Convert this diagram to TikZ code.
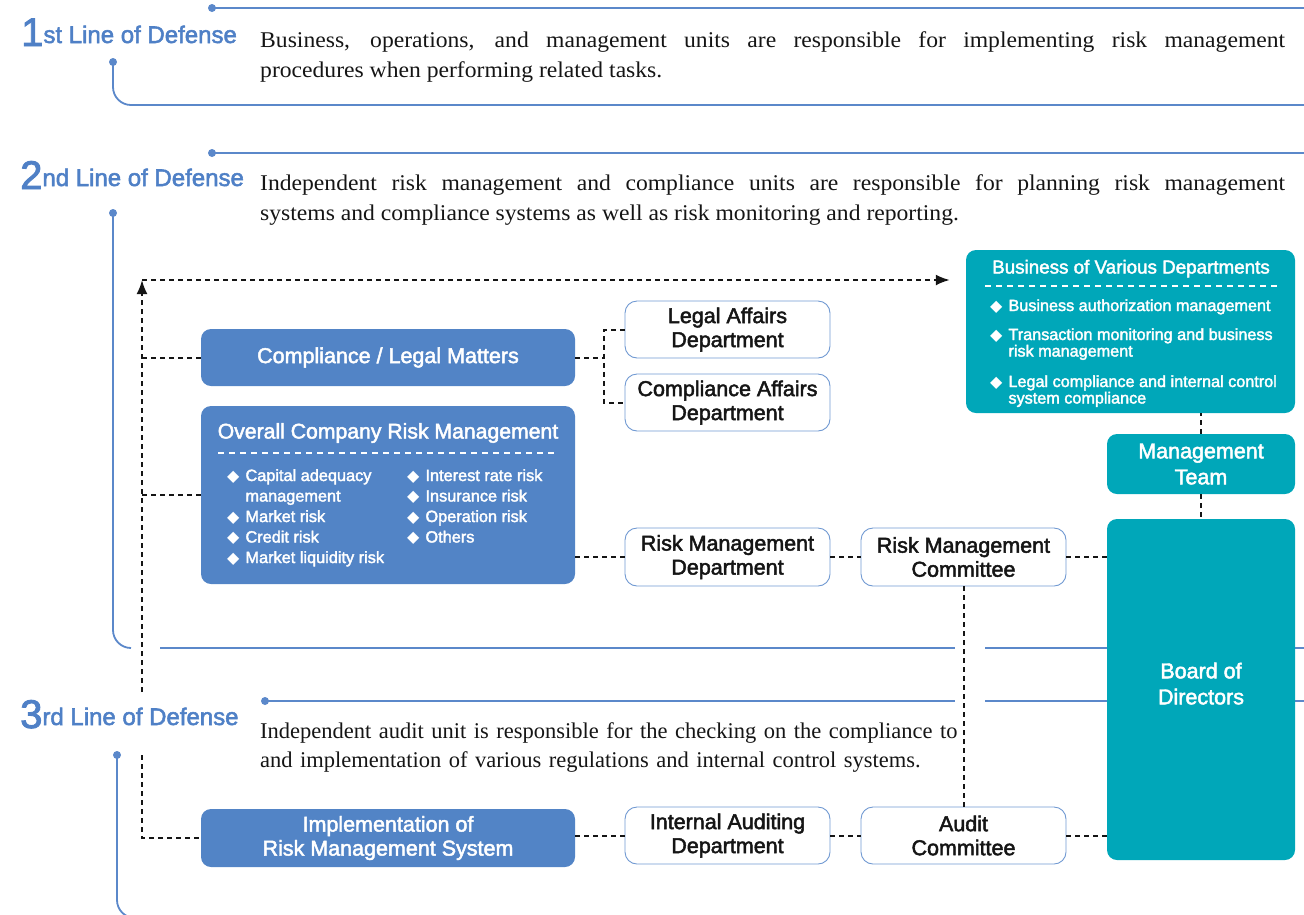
\documentclass[tikz,border=0pt]{standalone}
\usepackage{fontspec}
\setmainfont{Liberation Serif}
\setsansfont{Liberation Sans}[FakeBold=2.2]
\newfontfamily\widefont{Liberation Serif}[FakeStretch=1.05]
\newfontfamily\symfont{DejaVu Sans}
\usepackage{xcolor}
\usepackage{tikz}
\usetikzlibrary{calc,arrows.meta}
\definecolor{railc}{HTML}{5B88CA}
\definecolor{headc}{HTML}{4F80C6}
\definecolor{boxc}{HTML}{5284C6}
\definecolor{tealc}{HTML}{00A7B9}
\definecolor{edgec}{HTML}{7099D2}
\definecolor{ink}{HTML}{151515}
\newcommand{\bul}{{\symfont\fontsize{16}{16}\selectfont ◆}}
\newcommand{\bignum}[1]{{\fontsize{40}{40}\selectfont #1}}
\tikzset{
  rail/.style={draw=railc, line width=1.8pt},
  railend/.style={circle, fill=railc, inner sep=0pt, minimum size=8pt},
  dline/.style={draw=ink, line width=2pt, dash pattern=on 5pt off 4pt},
  tip/.style={-{Latex[length=14pt,width=11pt]}},
  wdash/.style={draw=white, line width=1.3pt, dash pattern=on 6pt off 5pt},
  head/.style={text=headc, font=\sffamily\fontsize{24}{24}\selectfont, anchor=base west, inner sep=0pt},
  para/.style={text=ink, font=\widefont\fontsize{22.5}{30}\selectfont, anchor=base west, inner sep=0pt, text width=1025pt, align=justify},
  bluebox/.style={fill=boxc, rounded corners=10pt, text=white, font=\sffamily\fontsize{21.5}{24}\selectfont, align=center, inner sep=0pt, minimum width=374pt},
  tealbox/.style={fill=tealc, rounded corners=10pt, text=white, font=\sffamily\fontsize{21.5}{26}\selectfont, align=center, inner sep=0pt, minimum width=188pt},
  deptbox/.style={draw=edgec, line width=0.9pt, fill=white, rounded corners=12pt, text=ink, minimum width=205pt, minimum height=57pt, font=\sffamily\fontsize{21.5}{24}\selectfont, align=center, inner sep=0pt},
  boxtitle/.style={text=white, anchor=base, inner sep=0pt},
  item/.style={text=white, font=\sffamily\fontsize{16.3}{20.5}\selectfont, anchor=base west, inner sep=0pt}
}

\begin{document}
\begin{tikzpicture}[x=1pt,y=-1pt]
  \useasboundingbox (0,0) rectangle (1304,914);

  % rails of the three lines of defense
  \node[railend] (r1a) at (212,8) {};
  \node[railend] (r1b) at (113,62) {};
  \node[railend] (r2a) at (212,153) {};
  \node[railend] (r2b) at (113,213) {};
  \node[railend] (r3a) at (265,701) {};
  \node[railend] (r3b) at (117,755) {};
  \draw[rail] (r1a.center) -- (1304,8);
  \draw[rail, rounded corners=18pt] (r1b.center) |- (1304,105);
  \draw[rail] (r2a.center) -- (1304,153);
  \draw[rail, rounded corners=18pt] (r2b.center) |- (131,648);
  \draw[rail] (160,648) -- (955,648);
  \draw[rail] (985,648) -- (1304,648);
  \draw[rail] (r3a.center) -- (955,701);
  \draw[rail] (985,701) -- (1304,701);
  \draw[rail, rounded corners=18pt] (r3b.center) |- (400,918);

  \node[head] (h1) at (21,46) {\bignum{1}\raisebox{3pt}{st Line of Defense}};
  \node[head] (h2) at (20,189) {\bignum{2}\raisebox{3pt}{nd Line of Defense}};
  \node[head] (h3) at (20,728) {\bignum{3}\raisebox{3pt}{rd Line of Defense}};

  \node[para] (t1) at (260,47) {Business, operations, and management units are responsible for implementing risk management\linebreak procedures when performing related tasks.};
  \node[para] (t2) at (260,190) {Independent risk management and compliance units are responsible for planning risk management\linebreak systems and compliance systems as well as risk monitoring and reporting.};
  \node[para, text width=720pt, align=left, font=\fontsize{22.5}{29}\selectfont] (t3) at (260,738) {Independent audit unit is responsible for the checking on the compliance to\\and implementation of various regulations and internal control systems.};

  % boxes
  \node[bluebox, minimum height=57pt] (compl) at (388,357.5) {Compliance / Legal Matters};
  \node[bluebox, minimum height=178pt] (overall) at (388,495) {};
  \node[bluebox, minimum height=58pt] (impl) at (388,838) {Implementation of\\Risk Management System};
  \node[deptbox] (legal) at (727.5,329.5) {Legal Affairs\\Department};
  \node[deptbox] (compaff) at (727.5,402.5) {Compliance Affairs\\Department};
  \node[deptbox, minimum height=58pt] (rmd) at (727.5,557) {Risk Management\\Department};
  \node[deptbox, minimum height=58pt] (rmc) at (963.5,557) {Risk Management\\Committee};
  \node[deptbox] (iad) at (727.5,835.5) {Internal Auditing\\Department};
  \node[deptbox] (audit) at (963.5,835.5) {Audit\\Committee};
  \node[tealbox, minimum width=329pt, minimum height=163pt] (biz) at (1130.5,331.5) {};
  \node[tealbox, minimum height=60pt] (mgmt) at (1201,464) {Management\\Team};
  \node[tealbox, minimum height=341pt, text depth=12pt] (board) at (1201,689.5) {Board of\\Directors};

  \node[boxtitle, font=\sffamily\fontsize{21.2}{24}\selectfont] (ovtitle) at (388,438.5) {Overall Company Risk Management};
  \draw[wdash] (218,453) -- (557,453);
  \node[item] (ovleft) at (227,481) {\begin{tabular}[t]{@{}l@{\hspace{6pt}}l@{}}
    \bul & Capital adequacy\\
         & management\\
    \bul & Market risk\\
    \bul & Credit risk\\
    \bul & Market liquidity risk
  \end{tabular}};
  \node[item] (ovright) at (407,481) {\begin{tabular}[t]{@{}l@{\hspace{6pt}}l@{}}
    \bul & Interest rate risk\\
    \bul & Insurance risk\\
    \bul & Operation risk\\
    \bul & Others
  \end{tabular}};

  \node[boxtitle, font=\sffamily\fontsize{18.8}{22}\selectfont] (biztitle) at (1131,273.5) {Business of Various Departments};
  \draw[wdash] (985,286) -- (1280,286);
  \node[item, font=\sffamily\fontsize{16.2}{16}\selectfont] (biz1) at (990,311) {\begin{tabular}[t]{@{}l@{\hspace{6pt}}l@{}}
    \bul & Business authorization management
  \end{tabular}};
  \node[item, font=\sffamily\fontsize{16.2}{16}\selectfont] (biz2) at (990,340) {\begin{tabular}[t]{@{}l@{\hspace{6pt}}l@{}}
    \bul & Transaction monitoring and business\\
         & risk management
  \end{tabular}};
  \node[item, font=\sffamily\fontsize{16.2}{16}\selectfont] (biz3) at (990,387) {\begin{tabular}[t]{@{}l@{\hspace{6pt}}l@{}}
    \bul & Legal compliance and internal control\\
         & system compliance
  \end{tabular}};

  % dashed links
  \coordinate (sptop) at (142,280);
  \coordinate (splow) at (142,692);
  \coordinate (sp3) at (142,755);
  \coordinate (fork) at (604,357.5);
  \draw[dline, tip] (splow) -- (sptop);
  \draw[dline, tip, shorten >=16pt] (sptop) -- (sptop -| biz.west);
  \draw[dline] (compl.west) -- (compl.west -| sptop);
  \draw[dline] (overall.west) -- (overall.west -| sptop);
  \draw[dline] (sp3) |- (impl.west);
  \draw[dline] (compl.east) -- (fork);
  \draw[dline] (legal.west) -| (fork) |- (compaff.west);
  \draw[dline] (rmd.west -| overall.east) -- (rmd.west);
  \draw[dline] (rmd) -- (rmc);
  \draw[dline] (rmc.east) -- (rmc.east -| board.west);
  \draw[dline] (rmc.south) -- (audit.north);
  \draw[dline] (iad.west -| impl.east) -- (iad.west);
  \draw[dline] (iad) -- (audit);
  \draw[dline] (audit.east) -- (audit.east -| board.west);
  \draw[dline] (mgmt.north) -- (mgmt.north |- biz.south);
  \draw[dline] (mgmt) -- (board);
\end{tikzpicture}
\end{document}
